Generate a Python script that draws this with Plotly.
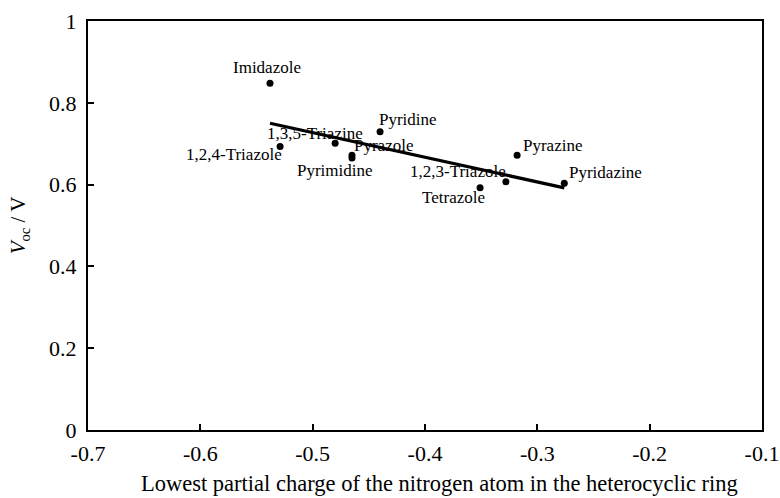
import numpy as np
import plotly.graph_objects as go

names = ["Imidazole", "1,2,4-Triazole", "1,3,5-Triazine", "Pyrazole", "Pyrimidine",
         "Pyridine", "Tetrazole", "1,2,3-Triazole", "Pyrazine", "Pyridazine"]
charge = [-0.538, -0.529, -0.480, -0.465, -0.465, -0.440, -0.351, -0.328, -0.318, -0.276]
voc = [0.848, 0.693, 0.701, 0.672, 0.665, 0.729, 0.592, 0.607, 0.672, 0.603]

x_ticks = [-0.7, -0.6, -0.5, -0.4, -0.3, -0.2, -0.1]
y_ticks = [0, 0.2, 0.4, 0.6, 0.8, 1]

x_title = "Lowest partial charge of the nitrogen atom in the heterocyclic ring"
y_title = "<i>V</i><sub>oc</sub> / V"

# label placement: (xanchor, xshift, yshift)
label_pos = {
    "Imidazole": ("center", -3, 16),
    "1,2,4-Triazole": ("right", 4, -8),
    "1,3,5-Triazine": ("center", -20, 10),
    "Pyrazole": ("left", 0, 10),
    "Pyrimidine": ("center", -17, -12),
    "Pyridine": ("left", -3, 12),
    "Tetrazole": ("center", -27, -10),
    "1,2,3-Triazole": ("right", 2, 10),
    "Pyrazine": ("left", 4, 10),
    "Pyridazine": ("left", 3, 11),
}

FONT = "Liberation Serif, Times New Roman, serif"

slope, intercept = np.polyfit(charge, voc, 1)
fx = np.array([min(charge), max(charge)])
fy = slope * fx + intercept

fig = go.Figure()
fig.add_trace(go.Scatter(x=fx, y=fy, mode="lines",
                         line=dict(color="black", width=3.2), showlegend=False))
fig.add_trace(go.Scatter(x=charge, y=voc, mode="markers",
                         marker=dict(color="black", size=7), showlegend=False))

for n, xv, yv in zip(names, charge, voc):
    xa, xs, ys = label_pos[n]
    fig.add_annotation(x=xv, y=yv, text=n, showarrow=False, xanchor=xa,
                       yanchor="middle", xshift=xs, yshift=ys,
                       font=dict(family=FONT, size=17, color="black"))

# axis titles
fig.add_annotation(xref="paper", yref="paper", x=0.521, y=-0.13, text=x_title,
                   showarrow=False, xanchor="center", yanchor="middle",
                   font=dict(family=FONT, size=22.5, color="black"))
fig.add_annotation(xref="paper", yref="paper", x=-0.102, y=0.501, text=y_title,
                   showarrow=False, xanchor="center", yanchor="middle", textangle=-90,
                   font=dict(family=FONT, size=21, color="black"))

fig.update_layout(
    width=780, height=498,
    margin=dict(l=88, r=18, t=21, b=68),
    paper_bgcolor="white", plot_bgcolor="white",
    font=dict(family=FONT, color="black"),
    xaxis=dict(range=[-0.7, -0.1], tickvals=x_ticks,
               ticktext=[f"{v:g}" for v in x_ticks],
               ticks="inside", ticklen=6, tickwidth=2, tickcolor="black",
               showline=True, linecolor="black", linewidth=2, mirror=True,
               showgrid=False, zeroline=False, ticklabelstandoff=3,
               ticklabeloverflow="allow", automargin=False,
               tickfont=dict(family=FONT, size=22)),
    yaxis=dict(range=[0, 1], tickvals=y_ticks,
               ticktext=[f"{v:g}" for v in y_ticks],
               ticks="inside", ticklen=6, tickwidth=2, tickcolor="black",
               showline=True, linecolor="black", linewidth=2, mirror=True,
               showgrid=False, zeroline=False, ticklabelstandoff=5,
               ticklabeloverflow="allow", automargin=False,
               tickfont=dict(family=FONT, size=22)),
)

fig.write_html("out.html")
